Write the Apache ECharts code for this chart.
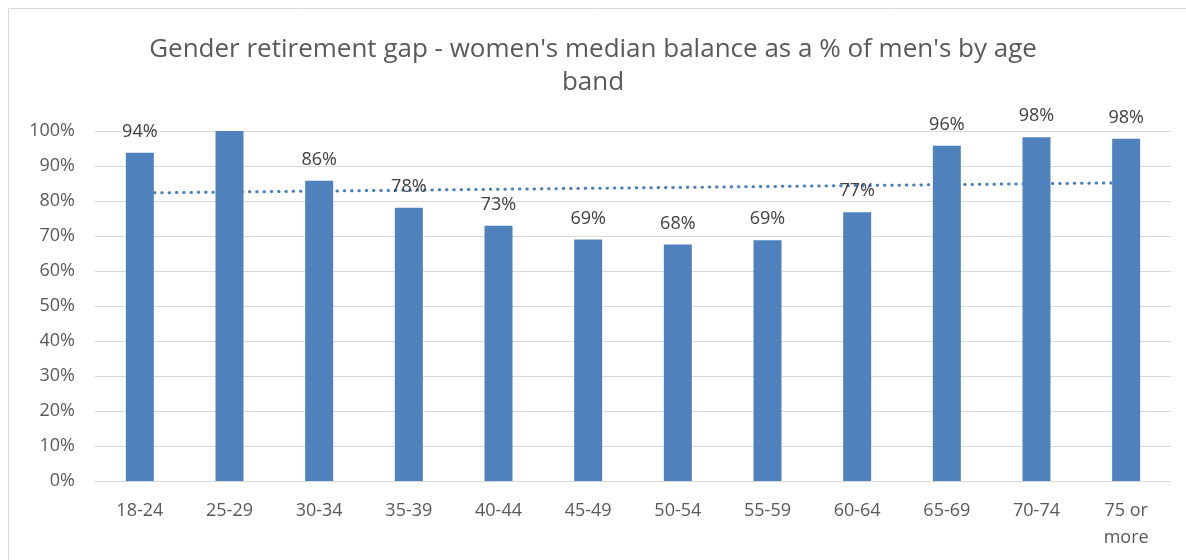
<!DOCTYPE html>
<html>
<head>
<meta charset="utf-8">
<script src="https://cdn.jsdelivr.net/npm/echarts@6/dist/echarts.min.js"></script>
<style>
  html, body { margin: 0; padding: 0; background: #fff; }
  #chart { width: 1186px; height: 560px; }
</style>
</head>
<body>
<div id="chart"></div>
<script>
// age bands
const categories = ['18-24', '25-29', '30-34', '35-39', '40-44', '45-49', '50-54', '55-59', '60-64', '65-69', '70-74', '75 or\nmore'];
// women's median balance as % of men's
const values = [93.8, 101, 85.8, 78.1, 72.9, 69.0, 67.6, 68.8, 76.8, 95.8, 98.2, 97.8];
// linear trendline end points
const trendStart = 82.3;
const trendEnd = 85.2;
const yTicks = [0, 10, 20, 30, 40, 50, 60, 70, 80, 90, 100];

const trendData = categories.map((c, i) => i === 0 ? trendStart : (i === categories.length - 1 ? trendEnd : null));

const chart = echarts.init(document.getElementById('chart'));
const font = "'Open Sans', 'Noto Sans', sans-serif";

chart.setOption({
  backgroundColor: '#fff',
  animation: false,
  title: {
    text: "Gender retirement gap - women's median balance as a % of men's by age\nband",
    left: 'center',
    top: 28,
    textStyle: {
      fontFamily: font,
      fontWeight: 'normal',
      fontSize: 26,
      color: '#595959',
      lineHeight: 33
    }
  },
  grid: {
    left: 95,
    right: 15,
    top: 131,
    bottom: 79
  },
  xAxis: {
    type: 'category',
    data: categories,
    axisLine: { lineStyle: { color: '#d9d9d9', width: 1 } },
    axisTick: { show: false },
    axisLabel: {
      fontFamily: font,
      fontSize: 18,
      color: '#595959',
      margin: 16,
      lineHeight: 27,
      interval: 0
    }
  },
  yAxis: {
    type: 'value',
    min: 0,
    max: 100,
    interval: 10,
    axisLine: { show: false },
    axisTick: { show: false },
    splitLine: { lineStyle: { color: '#d9d9d9', width: 1 } },
    axisLabel: {
      fontFamily: font,
      fontSize: 18,
      color: '#595959',
      margin: 20,
      formatter: v => yTicks.includes(v) ? v + '%' : ''
    }
  },
  series: [
    {
      type: 'line',
      data: trendData,
      connectNulls: true,
      symbol: 'none',
      z: 1,
      lineStyle: { color: '#4a7ebb', width: 3, type: [0.5, 6.8], cap: 'round' }
    },
    {
      type: 'bar',
      data: values,
      barWidth: 28,
      z: 2,
      clip: true,
      itemStyle: { color: '#4f81bd' },
      label: {
        show: true,
        position: 'top',
        distance: 12,
        fontFamily: font,
        fontSize: 18,
        color: '#404040',
        formatter: p => p.value > 100 ? '' : Math.round(p.value) + '%'
      }
    }
  ],
  graphic: [
    {
      type: 'rect',
      shape: { x: 8.5, y: 8.5, width: 1200, height: 600 },
      style: { fill: 'none', stroke: '#d9d9d9', lineWidth: 1 },
      silent: true
    }
  ]
});
</script>
</body>
</html>
